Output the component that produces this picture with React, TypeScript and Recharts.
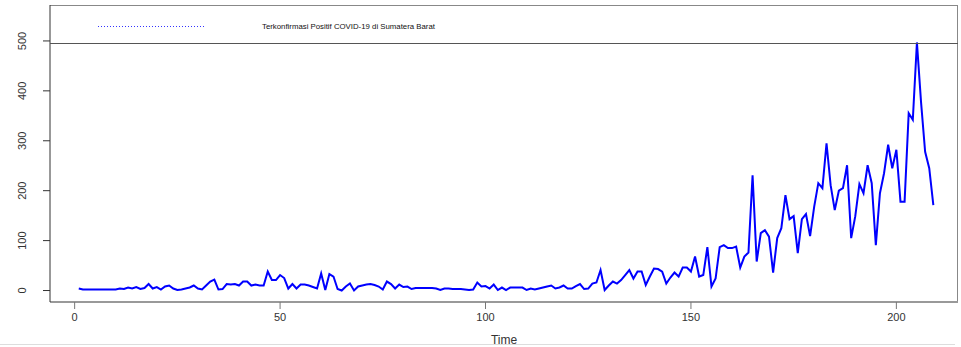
import { LineChart, Line, XAxis, YAxis, Legend } from "recharts";

const seriesName = "Terkonfirmasi Positif COVID-19 di Sumatera Barat";

// daily confirmed cases, Time = 1..209
const cases = [
  4, 2, 2, 2, 2, 2, 2, 2, 2, 2,
  4, 3, 6, 4, 7, 3, 5, 13, 4, 7,
  2, 8, 10, 4, 1, 2, 4, 6, 10, 4,
  2, 10, 18, 22, 2, 3, 13, 12, 13, 10,
  18, 18, 10, 12, 10, 10, 38, 21, 21, 31,
  25, 4, 13, 4, 12, 12, 10, 7, 4, 34,
  1, 33, 28, 3, 0, 8, 14, 0, 8, 10,
  12, 13, 11, 8, 2, 18, 13, 4, 12, 7,
  8, 3, 5, 5, 5, 5, 5, 4, 1, 4,
  4, 3, 3, 3, 2, 1, 2, 16, 8, 9,
  4, 12, 1, 6, 1, 6, 6, 6, 6, 1,
  4, 2, 4, 6, 8, 10, 4, 6, 10, 4,
  4, 9, 13, 3, 4, 14, 16, 41, 1, 10,
  18, 14, 21, 31, 41, 24, 38, 38, 11, 28,
  44, 43, 38, 14, 26, 36, 28, 46, 46, 38,
  68, 28, 31, 87, 8, 24, 87, 91, 85, 85,
  88, 46, 68, 76, 231, 58, 115, 121, 108, 36,
  105, 125, 191, 143, 149, 75, 143, 153, 109, 168,
  215, 205, 295, 211, 161, 200, 205, 251, 105, 149,
  213, 195, 251, 215, 91, 195, 235, 292, 245, 282,
  178, 178, 355, 342, 497, 378, 278, 245, 171,
];

const xTicks = [0, 50, 100, 150, 200];
const yTicks = [0, 100, 200, 300, 400, 500];

const data = cases.map((v, i) => ({ time: i + 1, cases: v }));

const font = "'Liberation Sans', Arial, sans-serif";

function YTick(props: any) {
  const { y, payload } = props;
  const tx = 26;
  return (
    <text
      x={tx}
      y={y}
      transform={`rotate(-90, ${tx}, ${y})`}
      textAnchor="middle"
      fontSize={11}
      fontFamily={font}
      fill="#333"
    >
      {payload.value}
    </text>
  );
}

function LegendBox(props: any) {
  const item = props.payload && props.payload[0];
  return (
    <div
      style={{
        width: 908,
        height: 38,
        borderBottom: "1px solid #555",
        position: "relative",
      }}
    >
      <svg width={908} height={38} style={{ display: "block" }}>
        <line
          x1={48}
          x2={155}
          y1={21.5}
          y2={21.5}
          stroke="#3333ff"
          strokeWidth={1}
          strokeDasharray="1 2"
        />
        <text
          x={212}
          y={24}
          fontSize={7.8}
          fontFamily={font}
          fill="#111"
        >
          {item ? item.value : seriesName}
        </text>
      </svg>
    </div>
  );
}

export default function App() {
  return (
    <div
      style={{
        position: "absolute",
        left: 0,
        top: 0,
        width: 961,
        height: 347,
        background: "#fff",
      }}
    >
      <div
        style={{
          position: "absolute",
          left: 50,
          top: 5,
          width: 908,
          height: 297,
          borderTop: "1px solid #888",
          borderRight: "1px solid #888",
          boxSizing: "border-box",
        }}
      />
      <div
        style={{
          position: "absolute",
          left: 0,
          top: 344,
          width: 955,
          height: 0,
          borderTop: "1px solid #ddd",
        }}
      />
      <LineChart
        width={961}
        height={347}
        data={data}
        margin={{ top: 5, right: 3, bottom: 0, left: 0 }}
      >
        <XAxis
          dataKey="time"
          type="number"
          domain={[-6, 215]}
          ticks={xTicks}
          allowDataOverflow
          height={45}
          tickSize={7}
          tickMargin={4}
          stroke="#777"
          axisLine={{ stroke: "#999", strokeWidth: 2 }}
          tick={{ fontSize: 11, fontFamily: font, fill: "#333" }}
          label={{
            value: "Time",
            position: "insideBottom",
            offset: 3,
            fontSize: 12,
            fontFamily: font,
            fill: "#333",
          }}
        />
        <YAxis
          type="number"
          domain={[-23, 572]}
          ticks={yTicks}
          allowDataOverflow
          width={50}
          tickSize={7}
          stroke="#333"
          axisLine={{ stroke: "#333" }}
          tick={<YTick />}
        />
        <Legend
          layout="horizontal"
          verticalAlign="middle"
          align="center"
          wrapperStyle={{ top: 5, left: 50, width: 908, height: 39 }}
          content={<LegendBox />}
        />
        <Line
          type="linear"
          dataKey="cases"
          name={seriesName}
          stroke="#0000ff"
          strokeWidth={2}
          dot={false}
          isAnimationActive={false}
        />
      </LineChart>
    </div>
  );
}
